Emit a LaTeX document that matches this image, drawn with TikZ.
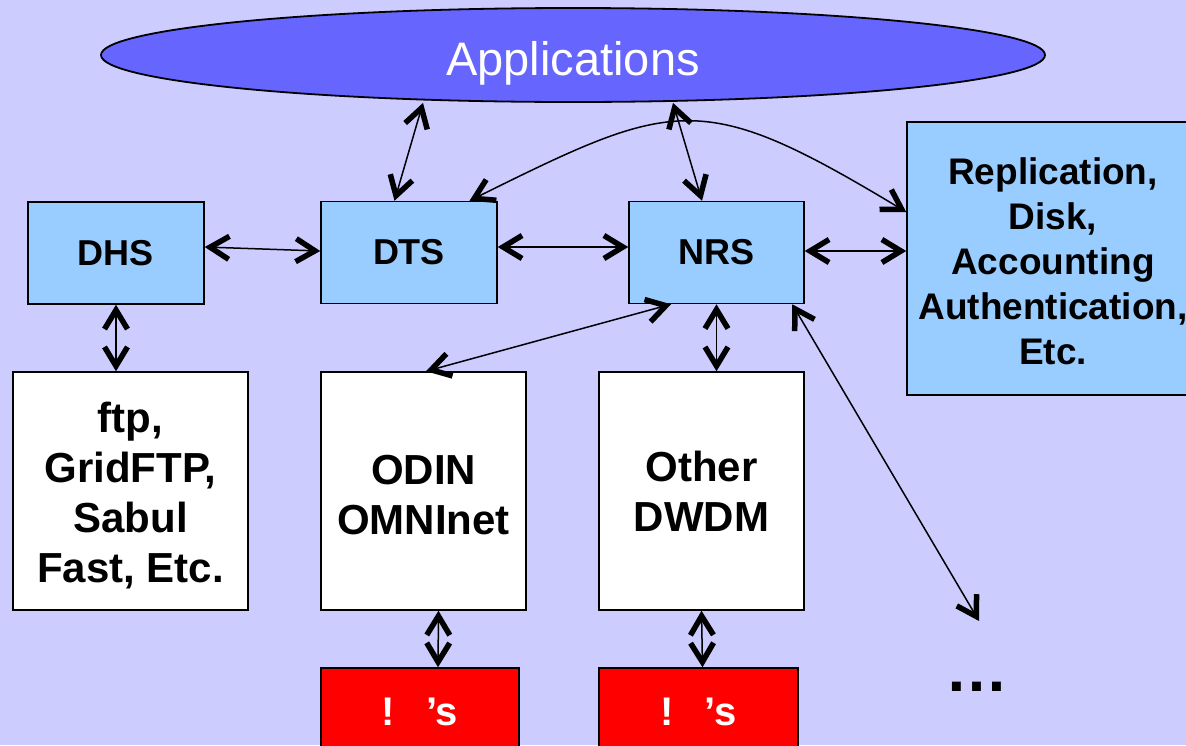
\documentclass[tikz,border=0pt]{standalone}
\usepackage{fontspec}
\setmainfont{Liberation Sans}
\usetikzlibrary{arrows.meta,shapes.geometric}
\definecolor{bgpanel}{HTML}{CCCCFF}
\definecolor{appblue}{HTML}{6666FF}
\definecolor{boxblue}{HTML}{99CCFF}
\definecolor{lamred}{HTML}{FF0000}
\tikzset{
  panelbox/.style={draw=black, line width=1.5pt, inner sep=0pt, align=center},
  bluebox/.style={panelbox, fill=boxblue, font=\fontsize{36}{43}\selectfont\bfseries},
  svcbox/.style={panelbox, fill=boxblue, font=\fontsize{37}{45}\selectfont\bfseries},
  whitebox/.style={panelbox, fill=white, font=\fontsize{42}{50}\selectfont\bfseries},
  redbox/.style={panelbox, fill=lamred, text=white, font=\fontsize{40}{48}\selectfont\bfseries},
  boxtext/.style={draw=none, fill=none},
  appnode/.style={ellipse, draw=black, line width=1.8pt, fill=appblue, text=white, inner sep=0pt,
    font=\fontsize{47}{56}\selectfont},
  barb/.tip={Straight Barb[length=19pt,width=23pt,line width'=5.5pt]},
  link/.style={line width=1.5pt, barb-barb},
}
\begin{document}
\begin{tikzpicture}[x=1pt,y=-1pt]
\fill[bgpanel] (0,0) rectangle (1186,745);
\useasboundingbox (0,0) rectangle (1186,745);

% top ellipse
\node[appnode, minimum width=944pt, minimum height=94pt, text height=40pt, text depth=0pt] (apps) at (573,55) {Applications};

% service row
\node[bluebox, minimum width=176pt, minimum height=102pt] (dhs) at (116,253) {DHS};
\node[bluebox, minimum width=176pt, minimum height=102pt] (dts) at (409,252.5) {DTS};
\node[bluebox, minimum width=175pt, minimum height=102pt] (nrs) at (716.5,252.5) {NRS};
\node[svcbox, minimum width=292pt, minimum height=273pt] (svc) at (1053,258.5) {};
\node[svcbox, boxtext] (svctext) at (1053,261)
  {Replication,\\Disk,\\Accounting\\Authentication,\\Etc.};

% transport row
\node[whitebox, minimum width=235pt, minimum height=238pt] (ftp) at (130.5,491) {};
\node[whitebox, boxtext] (ftptext) at (130.5,496)
  {ftp,\\GridFTP,\\Sabul\\Fast, Etc.};
\node[whitebox, minimum width=205pt, minimum height=238pt] (odin) at (423.5,491) {};
\node[whitebox, boxtext] (odintext) at (423.5,495) {ODIN\\OMNInet};
\node[whitebox, minimum width=205pt, minimum height=238pt] (dwdm) at (701.5,491)
  {Other\\DWDM};

% bottom row
\node[redbox, minimum width=198pt, minimum height=88pt] (lam1) at (420,712) {!\hspace{31pt}’s};
\node[redbox, minimum width=199pt, minimum height=88pt] (lam2) at (698.5,712) {!\hspace{31pt}’s};

% continuation marker
\node[anchor=base, inner sep=0pt, font=\fontsize{63}{70}\selectfont\bfseries] (more) at (976.5,691) {…};
\coordinate (moreend) at (979,621);

% connectors
\draw[link] ([xshift=-150pt]apps.south) -- ([xshift=-14.5pt]dts.north);
\draw[link] ([xshift=100pt]apps.south) -- ([xshift=-14.5pt]nrs.north);
\draw[link] ([yshift=6pt]dhs.east) -- ([yshift=1.5pt]dts.west);
\draw[link] ([yshift=5.5pt]dts.east) -- ([yshift=5.5pt]nrs.west);
\draw[link] ([yshift=1.5pt]nrs.east) -- ([yshift=7.5pt]svc.west);
\draw[link] ([xshift=60.5pt]dts.north) .. controls (676,98.5) and (701,88.4) .. ([yshift=46.5pt]svc.west);
\draw[link] (dhs.south) -- ([xshift=-14.5pt]ftp.north);
\draw[link] ([xshift=-45.5pt]nrs.south) -- ([xshift=2.5pt]odin.north);
\draw[link] (nrs.south) -- ([xshift=15pt]dwdm.north);
\draw[link] ([xshift=-12.5pt]nrs.south east) -- (moreend);
\draw[link] ([xshift=15pt]odin.south) -- ([xshift=18pt]lam1.north);
\draw[link] (dwdm.south) -- ([xshift=4pt]lam2.north);
\end{tikzpicture}
\end{document}
